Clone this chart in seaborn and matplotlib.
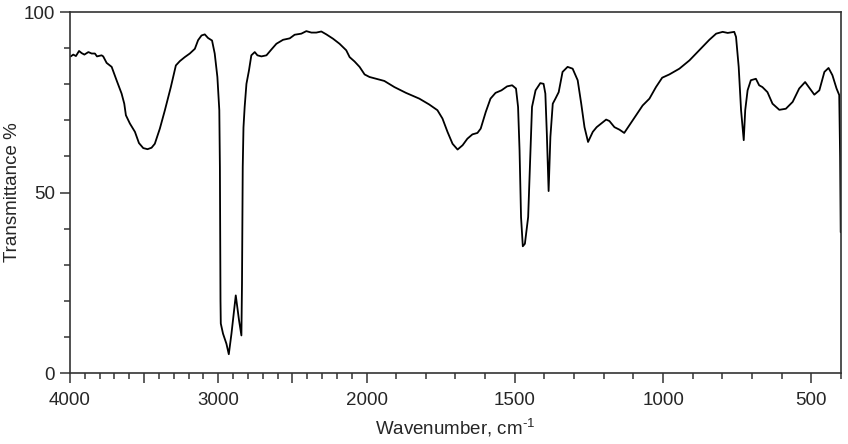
import numpy as np
import pandas as pd
import matplotlib
matplotlib.use("Agg")
import matplotlib.pyplot as plt
import seaborn as sns

# ----- IR spectrum -----
wavenumber = [
    3995, 3978, 3960, 3939, 3921, 3903, 3876, 3854, 3832, 3818, 3787, 3776,
    3753, 3719, 3686, 3652, 3634, 3623, 3596, 3562, 3535, 3506, 3477, 3450,
    3428, 3394, 3360, 3320, 3286, 3259, 3226, 3192, 3158, 3136, 3113, 3091,
    3069, 3042, 3024, 3006, 2993, 2989, 2987, 2985, 2983, 2968, 2945, 2929,
    2911, 2882, 2860, 2844, 2840, 2835, 2830, 2822, 2810, 2793, 2777, 2754,
    2736, 2709, 2675, 2642, 2608, 2563, 2518, 2485, 2440, 2406, 2372, 2339,
    2305, 2271, 2226, 2182, 2159, 2137, 2114, 2081, 2047, 2013, 1990, 1967,
    1940, 1906, 1867, 1822, 1789, 1761, 1744, 1727, 1710, 1693, 1676, 1660,
    1643, 1626, 1615, 1598, 1582, 1565, 1545, 1526, 1509, 1496, 1489, 1484,
    1479, 1473, 1466, 1455, 1447, 1442, 1430, 1414, 1403, 1397, 1392, 1386,
    1380, 1372, 1363, 1352, 1339, 1322, 1305, 1288, 1276, 1265, 1253, 1237,
    1224, 1209, 1192, 1181, 1164, 1147, 1131, 1114, 1091, 1069, 1046, 1024,
    1003, 979, 945, 911, 878, 844, 821, 799, 782, 760, 754, 745,
    737, 728, 723, 715, 704, 687, 676, 665, 648, 631, 608, 586,
    563, 541, 521, 505, 490, 473, 456, 442, 429, 415, 406, 403,
    401,
]
transmittance = [
    87.7, 88.2, 87.8, 89.2, 88.6, 88.2, 88.9, 88.5, 88.5, 87.7, 88.0, 87.7,
    85.9, 84.8, 81.1, 77.4, 74.6, 71.4, 69.1, 66.8, 63.7, 62.3, 62.0, 62.4,
    63.5, 67.7, 72.8, 79.2, 85.2, 86.4, 87.5, 88.5, 89.8, 92.2, 93.5, 93.8,
    92.8, 92.1, 88.5, 82.0, 72.8, 57.0, 35.0, 20.0, 13.7, 10.9, 8.1, 5.2,
    10.9, 21.5, 14.6, 10.4, 24.7, 57.0, 68.0, 73.7, 80.1, 83.8, 88.0, 88.9,
    88.0, 87.7, 88.0, 89.6, 91.2, 92.3, 92.7, 93.7, 94.0, 94.7, 94.3, 94.3,
    94.6, 93.8, 92.6, 91.2, 90.3, 89.4, 87.5, 86.3, 84.8, 82.7, 82.0, 81.5,
    80.9, 79.2, 77.6, 76.0, 74.4, 72.8, 70.5, 66.8, 63.5, 61.9, 63.1, 64.9,
    66.1, 66.5, 67.7, 72.3, 76.0, 77.6, 78.3, 79.4, 79.7, 78.8, 73.7, 61.7,
    43.2, 35.1, 35.8, 43.2, 61.7, 73.7, 78.3, 80.3, 80.1, 77.4, 66.3, 50.4,
    65.4, 74.6, 76.0, 77.8, 83.4, 84.8, 84.3, 81.1, 74.6, 68.1, 64.0, 66.8,
    68.1, 69.1, 70.2, 69.8, 68.1, 67.4, 66.5, 68.6, 71.4, 74.1, 76.0, 79.2,
    81.8, 82.7, 84.3, 86.6, 89.4, 92.3, 94.0, 94.5, 94.2, 94.5, 93.1, 84.8,
    72.8, 64.5, 72.8, 78.3, 81.1, 81.5, 79.7, 79.2, 77.8, 74.6, 72.9, 73.2,
    75.1, 78.8, 80.6, 78.8, 77.1, 78.3, 83.4, 84.5, 82.5, 78.8, 77.0, 60.0,
    39.0,
]

major_ticks = [4000, 3500, 3000, 2500, 2000, 1500, 1000, 500]
major_labels = ["4000", "", "3000", "", "2000", "1500", "1000", "500"]

df = pd.DataFrame({"wn": wavenumber, "T": transmittance})

sns.set_style("ticks")
plt.rcParams["font.family"] = ["Liberation Sans", "DejaVu Sans"]
plt.rcParams["mathtext.fontset"] = "custom"
plt.rcParams["mathtext.rm"] = "Liberation Sans"
plt.rcParams["mathtext.bf"] = "Liberation Sans:bold"


# wavenumbers above 2000 are drawn at half scale
def fwd(x):
    x = np.asarray(x, dtype=float)
    return np.where(x > 2000, 2000 + (x - 2000) / 2, x)


def inv(y):
    y = np.asarray(y, dtype=float)
    return np.where(y > 2000, 2000 + (y - 2000) * 2, y)


fig = plt.figure(figsize=(8.48, 4.44), dpi=100)
ax = fig.add_axes([70 / 848, 1 - 373 / 444, 771 / 848, 361 / 444])
ax.set_xscale("function", functions=(fwd, inv))

sns.lineplot(data=df, x="wn", y="T", sort=False, color="black", linewidth=1.3, ax=ax)

ax.set_xlim(4000, 400)
ax.set_ylim(0, 100)
ax.set_xticks(major_ticks)
ax.set_xticklabels(major_labels)
ax.set_xticks([w for w in range(4000, 399, -100) if w not in major_ticks], minor=True)
ax.set_yticks([0, 50, 100])
ax.set_yticks([v for v in range(10, 100, 10) if v != 50], minor=True)

ax.tick_params(which="major", direction="out", length=7, width=1.1, labelsize=13.5, pad=4, color="#333333")
ax.tick_params(axis="x", which="major", pad=7)
ax.tick_params(which="minor", direction="out", length=4.5, width=1.1, color="#333333")
for s in ax.spines.values():
    s.set_linewidth(1.2)
    s.set_color("#333333")

ax.set_xlabel(r"Wavenumber, cm$^{\mathbf{\text{-1}}}$", fontsize=13.5, labelpad=5)
ax.set_ylabel("Transmittance %", fontsize=13.5, labelpad=2)

fig.savefig("out.png", dpi=100)
plt.close(fig)
